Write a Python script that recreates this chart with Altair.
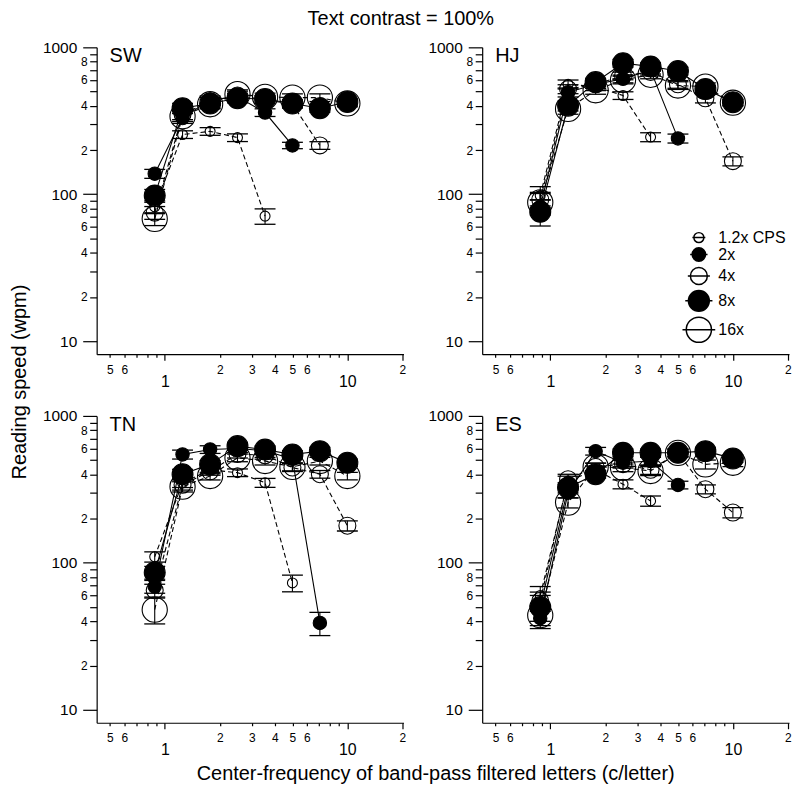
import altair as alt
import pandas as pd

FONT = "Liberation Sans"

# ---------------- data ----------------
X_VALUES = [0.88, 1.25, 1.77, 2.5, 3.54, 5.0, 7.07, 10.0]
SERIES = ["1.2x CPS", "2x", "4x", "8x", "16x"]
DASHED_SERIES = ["1.2x CPS", "4x", "16x"]
SOLID_SERIES = ["2x", "8x"]
PANELS = ["SW", "HJ", "TN", "ES"]

# reading speed (wpm) per series, in order of X_VALUES (series stop where they end)
SW = {
    "1.2x CPS": [82, 255, 268, 243, 71],
    "2x": [138, 330, 440, 460, 360, 215],
    "4x": [75, 350, 430, 470, 440, 410, 215],
    "8x": [98, 385, 415, 450, 445, 415, 385, 425],
    "16x": [68, 340, 410, 480, 460, 455, 455, 415],
}
HJ = {
    "1.2x CPS": [98, 560, 540, 470, 245],
    "2x": [82, 494, 560, 610, 700, 240],
    "4x": [92, 520, 560, 640, 680, 560, 450, 168],
    "8x": [76, 401, 580, 780, 740, 690, 520, 423],
    "16x": [88, 381, 510, 600, 650, 550, 540, 420],
}
TN = {
    "1.2x CPS": [110, 350, 430, 411, 351, 73],
    "2x": [69, 547, 591, 600, 580, 510, 39],
    "4x": [65, 340, 420, 550, 540, 445, 401, 179],
    "8x": [86, 401, 468, 623, 590, 547, 576, 480],
    "16x": [48, 330, 390, 519, 493, 450, 493, 390],
}
ES = {
    "1.2x CPS": [60, 360, 430, 343, 264],
    "2x": [42, 300, 576, 480, 493, 339],
    "4x": [55, 371, 450, 470, 430, 560, 317, 220],
    "8x": [50, 325, 401, 561, 561, 561, 576, 514],
    "16x": [44, 257, 450, 444, 422, 560, 468, 480],
}

# error-bar half widths (fraction of the value)
SW_ERR = {
    "1.2x CPS": [0.10, 0.06, 0.06, 0.06, 0.12],
    "2x": [0.07, 0.08, 0.06, 0.06, 0.06, 0.05],
    "4x": [0.10, 0.08, 0.06, 0.07, 0.06, 0.06, 0.06],
    "8x": [0.10, 0.08, 0.07, 0.07, 0.06, 0.06, 0.06, 0.05],
    "16x": [0.10, 0.08, 0.07, 0.07, 0.06, 0.06, 0.06, 0.05],
}
HJ_ERR = {
    "1.2x CPS": [0.15, 0.07, 0.06, 0.06, 0.07],
    "2x": [0.12, 0.07, 0.06, 0.06, 0.06, 0.07],
    "4x": [0.12, 0.07, 0.06, 0.06, 0.06, 0.06, 0.07, 0.07],
    "8x": [0.20, 0.08, 0.06, 0.06, 0.06, 0.06, 0.06, 0.05],
    "16x": [0.15, 0.08, 0.06, 0.06, 0.06, 0.06, 0.06, 0.05],
}
TN_ERR = {
    "1.2x CPS": [0.08, 0.07, 0.06, 0.06, 0.07, 0.13],
    "2x": [0.10, 0.07, 0.06, 0.06, 0.06, 0.06, 0.18],
    "4x": [0.10, 0.08, 0.06, 0.06, 0.06, 0.06, 0.06, 0.08],
    "8x": [0.10, 0.08, 0.06, 0.06, 0.06, 0.06, 0.06, 0.06],
    "16x": [0.20, 0.08, 0.06, 0.06, 0.06, 0.06, 0.06, 0.06],
}
ES_ERR = {
    "1.2x CPS": [0.15, 0.08, 0.06, 0.07, 0.08],
    "2x": [0.15, 0.08, 0.06, 0.06, 0.06, 0.06],
    "4x": [0.15, 0.08, 0.06, 0.06, 0.07, 0.06, 0.07, 0.08],
    "8x": [0.20, 0.08, 0.06, 0.06, 0.06, 0.06, 0.06, 0.06],
    "16x": [0.15, 0.08, 0.06, 0.06, 0.07, 0.06, 0.07, 0.06],
}

X_TICKS = [0.5, 0.6, 0.7, 0.8, 0.9, 1, 2, 3, 4, 5, 6, 7, 8, 9, 10, 20]
X_TICK_LABELS = ["5", "6", "", "", "", "1", "2", "3", "4", "5", "6", "", "", "", "10", "2"]
Y_TICKS = [10, 20, 30, 40, 50, 60, 70, 80, 90, 100, 200, 300, 400, 500, 600, 700, 800, 900, 1000]
Y_TICK_LABELS = ["10", "2", "", "4", "", "6", "", "8", "", "100", "2", "", "4", "", "6", "", "8", "", "1000"]

# ---------------- styling ----------------
X_DOMAIN = [0.423, 20.3]
Y_DOMAIN = [8.16, 1000]
FILLS = ["transparent", "black", "transparent", "black", "transparent"]
SIZES = [100, 180, 290, 440, 640]
LEGEND_SYMBOL = "M-1.3,0L1.3,0M-1,0A1,1,0,1,0,1,0A1,1,0,1,0,-1,0Z"

DATA = {"SW": (SW, SW_ERR), "HJ": (HJ, HJ_ERR), "TN": (TN, TN_ERR), "ES": (ES, ES_ERR)}
rows = []
for p in PANELS:
    vals, errs = DATA[p]
    for s in SERIES:
        for xv, yv, ev in zip(X_VALUES, vals[s], errs[s]):
            rows.append({"panel": p, "series": s, "x": xv, "y": yv,
                         "lo": yv * (1 - ev), "hi": yv * (1 + ev)})
df = pd.DataFrame(rows)


def label_expr(ticks, labels):
    return "".join(f"datum.value == {t} ? '{l}' : " for t, l in zip(ticks, labels)) + "''"


XMAJ = "datum.value == 1 || datum.value == 10"
XLONG = "datum.value == 1 || datum.value == 10 || datum.value == 20"
YMAJ = "datum.value == 10 || datum.value == 100 || datum.value == 1000"

x_axis = alt.Axis(
    values=X_TICKS, labelExpr=label_expr(X_TICKS, X_TICK_LABELS), grid=False,
    domainColor="black", domainWidth=1.2, tickColor="black", tickWidth=1.2,
    tickSize={"condition": {"test": XLONG, "value": 6}, "value": 3},
    labelPadding={"condition": [{"test": XMAJ, "value": 13}, {"test": "datum.value == 20", "value": 4}], "value": 7},
    labelFontSize={"condition": {"test": XMAJ, "value": 16}, "value": 12},
    labelFont=FONT, labelColor="black", labelOverlap=False, labelFlush=False, labelBound=False,
)
y_axis = alt.Axis(
    values=Y_TICKS, labelExpr=label_expr(Y_TICKS, Y_TICK_LABELS), grid=False,
    domainColor="black", domainWidth=1.2, tickColor="black", tickWidth=1.2,
    tickSize={"condition": {"test": YMAJ, "value": 14}, "value": 7},
    labelPadding={"condition": {"test": YMAJ, "value": 6}, "value": 2.5},
    labelFontSize={"condition": {"test": YMAJ, "value": 15.5}, "value": 12},
    labelFont=FONT, labelColor="black", labelOverlap=False, labelFlush=False, labelBound=False,
)
xscale = alt.Scale(type="log", domain=X_DOMAIN, nice=False)
yscale = alt.Scale(type="log", domain=Y_DOMAIN, nice=False)


def X(f):
    return alt.X(f"{f}:Q", scale=xscale, axis=x_axis, title=None)


def Y(f):
    return alt.Y(f"{f}:Q", scale=yscale, axis=y_axis, title=None)


def panel_chart(name, with_legend):
    d = df[df.panel == name]
    base = alt.Chart(d)
    if with_legend:
        legend = alt.Legend(
            orient="none", legendX=204, legendY=183, title=None,
            labelFont=FONT, labelFontSize=16, labelColor="black", labelOffset=6,
            rowPadding=-1, padding=0, symbolOpacity=1,
        )
    else:
        legend = None
    dashed = base.transform_filter(alt.FieldOneOfPredicate(field="series", oneOf=DASHED_SERIES)).mark_line(
        color="black", strokeWidth=1.1, strokeDash=[5, 3]
    ).encode(x=X("x"), y=Y("y"), detail="series:N", order="x:Q")
    solid = base.transform_filter(alt.FieldOneOfPredicate(field="series", oneOf=SOLID_SERIES)).mark_line(
        color="black", strokeWidth=1.1
    ).encode(x=X("x"), y=Y("y"), detail="series:N", order="x:Q")
    rules = base.mark_rule(color="black", strokeWidth=1.1).encode(x=X("x"), y=Y("lo"), y2="hi:Q")
    cap_lo = base.mark_tick(orient="horizontal", size=21, thickness=1.3, color="black", opacity=1).encode(
        x=X("x"), y=Y("lo"))
    cap_hi = base.mark_tick(orient="horizontal", size=21, thickness=1.3, color="black", opacity=1).encode(
        x=X("x"), y=Y("hi"))
    points = base.mark_point(filled=True, stroke="black", strokeWidth=1.1, opacity=1).encode(
        x=X("x"), y=Y("y"),
        # marks are drawn as circles; the legend picks up the circle-with-line symbol
        shape=alt.value(LEGEND_SYMBOL, condition={"test": "true", "value": "circle"}),
        fill=alt.Fill("series:N", scale=alt.Scale(domain=SERIES, range=FILLS), legend=legend),
        size=alt.Size("series:N", scale=alt.Scale(type="ordinal", domain=SERIES, range=SIZES), legend=legend),
    )
    label = alt.Chart(pd.DataFrame({"t": [name]})).mark_text(
        align="left", baseline="middle", fontSize=20, font=FONT, color="black"
    ).encode(text="t:N", x=alt.value(13), y=alt.value(9))
    return alt.layer(dashed, solid, rules, cap_lo, cap_hi, points, label).properties(width=308, height=308)


grid = alt.concat(
    *[panel_chart(p, p == "HJ") for p in PANELS],
    columns=2, spacing={"row": 62, "column": 79}, bounds="flush",
).resolve_scale(fill="independent", size="independent").properties(
    title=alt.TitleParams("Center-frequency of band-pass filtered letters (c/letter)", orient="bottom",
                          fontSize=20, font=FONT, fontWeight="normal", color="black",
                          anchor="middle", offset=6, dx=19)
)

mid = alt.hconcat(grid).properties(
    title=alt.TitleParams("Reading speed (wpm)", orient="left", fontSize=20, font=FONT,
                          fontWeight="normal", color="black", anchor="middle", offset=12, dx=30)
)

chart = alt.vconcat(mid).properties(
    title=alt.TitleParams("Text contrast = 100%", fontSize=20, font=FONT, fontWeight="normal",
                          color="black", anchor="middle", offset=11),
    padding={"left": 2, "top": 0, "right": 0, "bottom": 0},
).configure_view(stroke=None)

chart.save("out.html", embed_options={"renderer": "svg", "actions": False})
